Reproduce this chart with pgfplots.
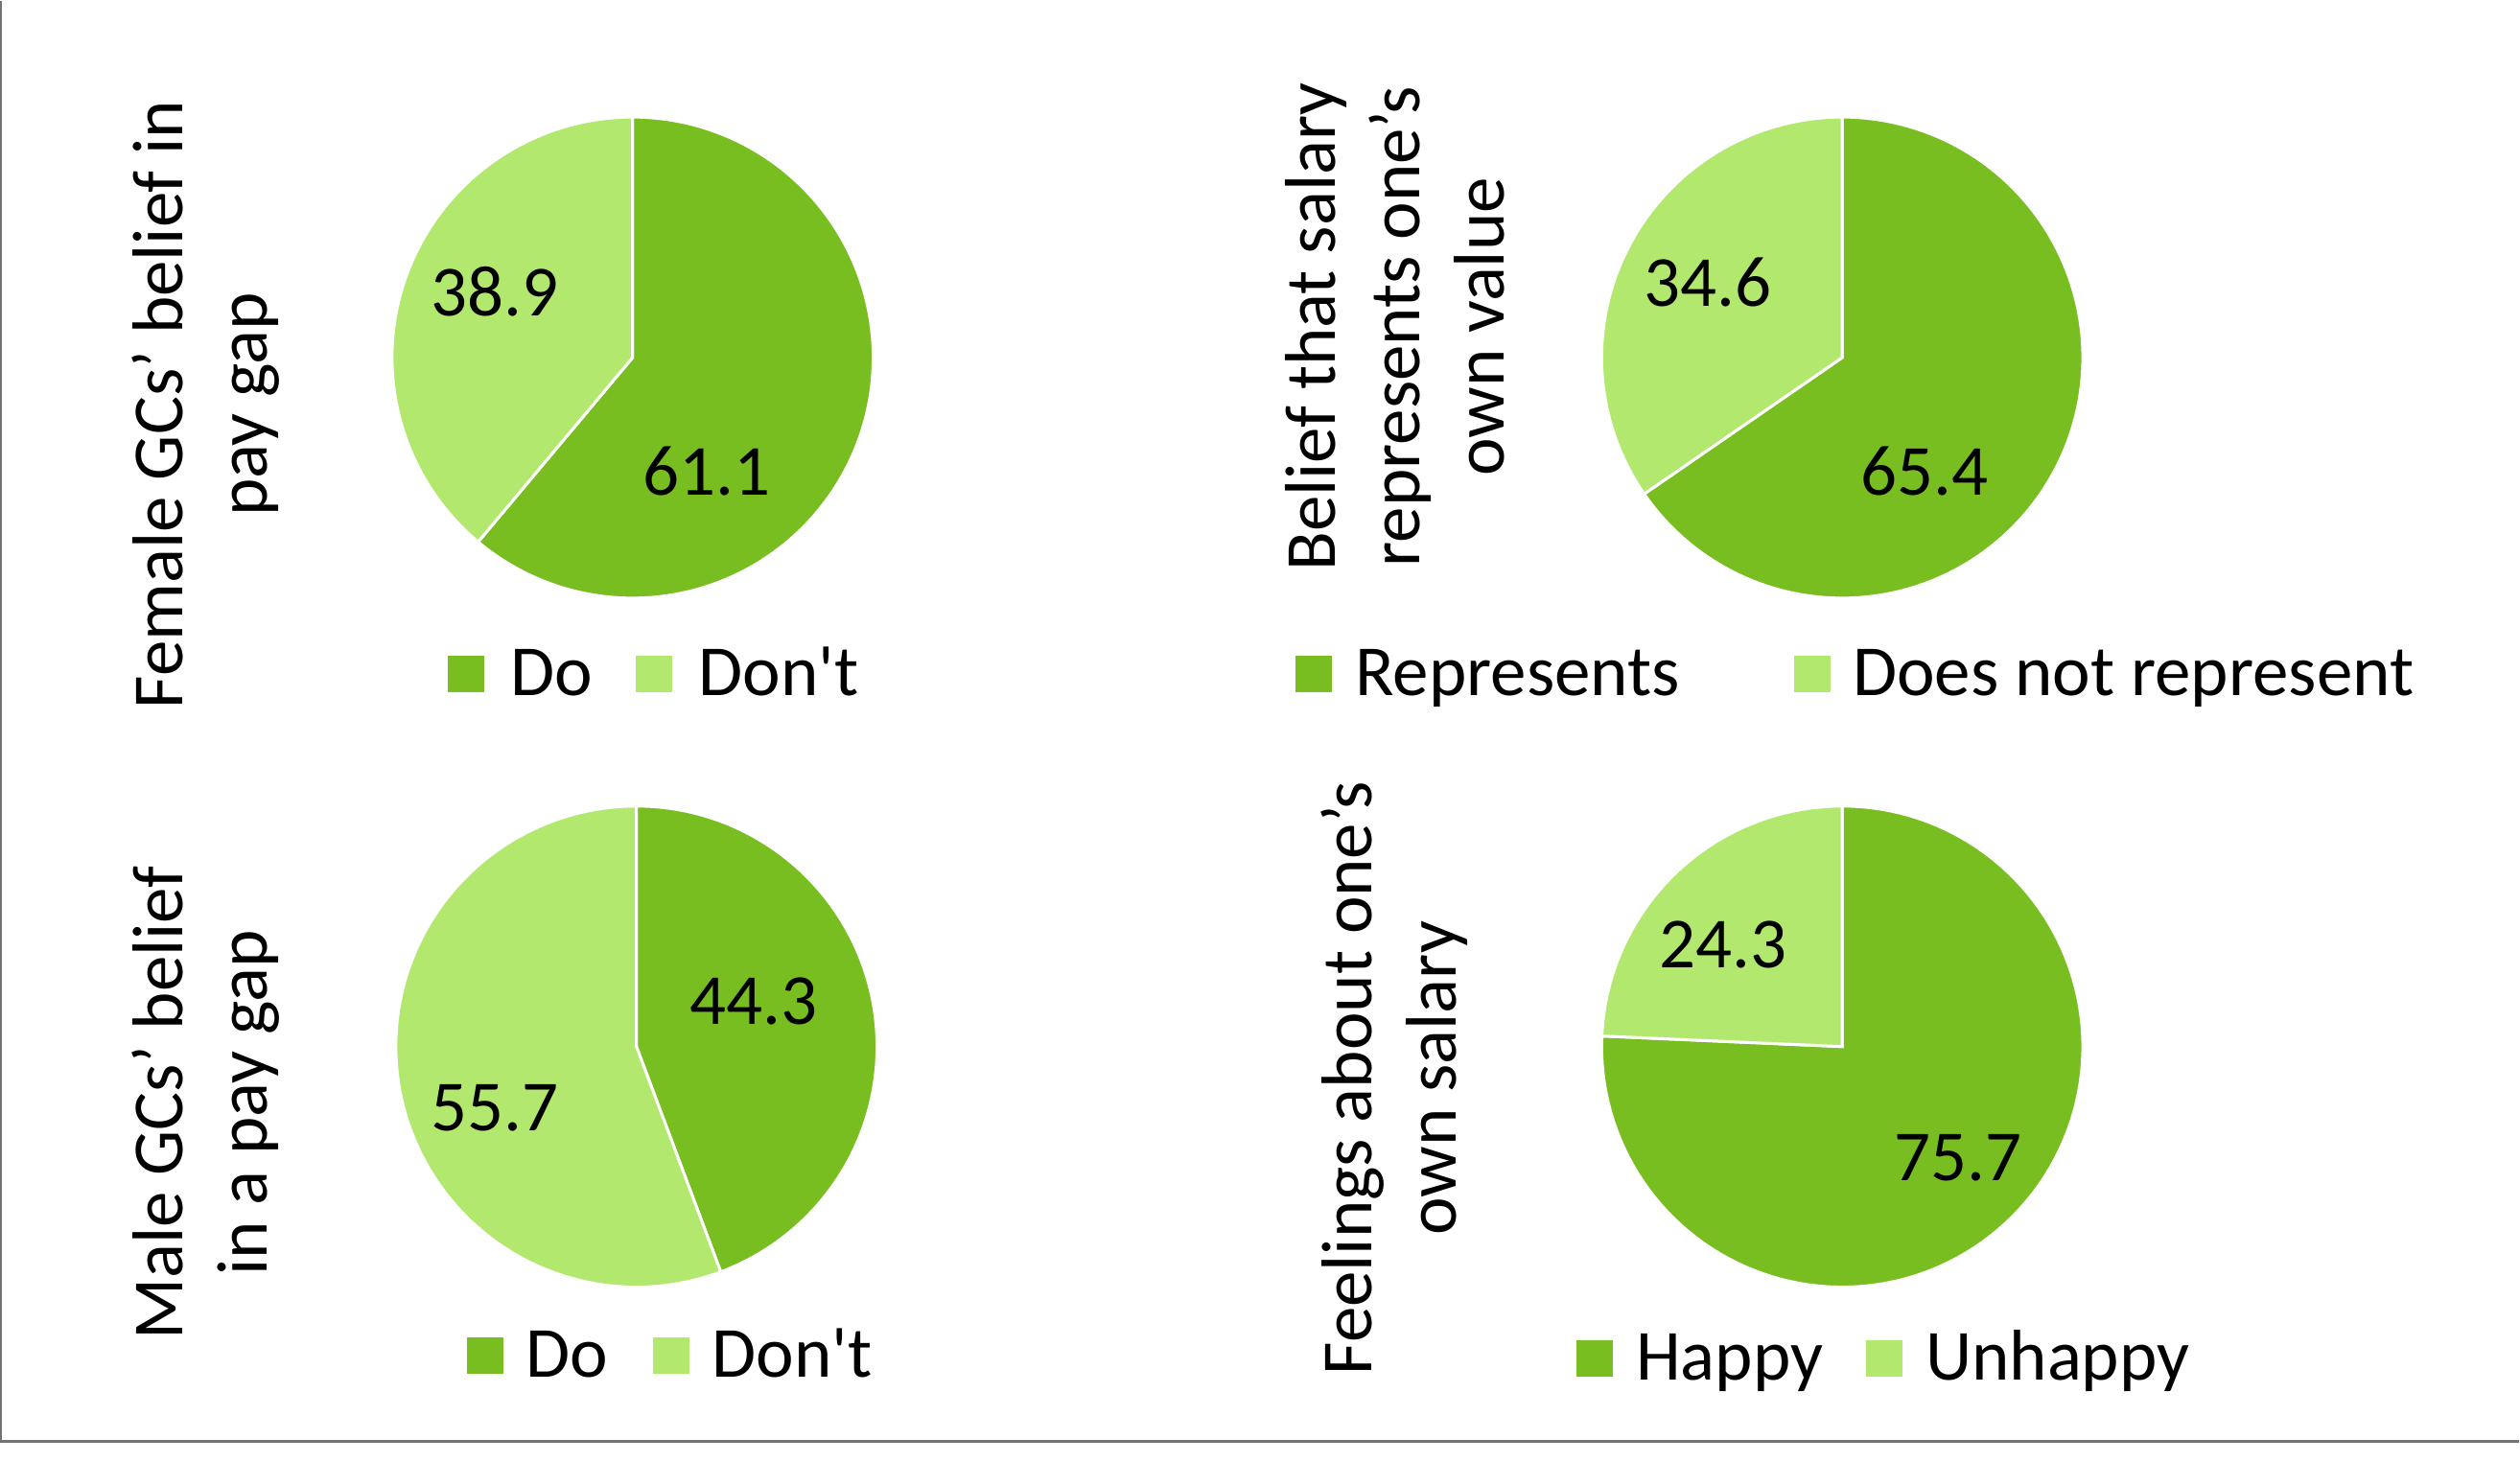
\documentclass[border=0pt]{standalone}
\usepackage{pgfplots}
\pgfplotsset{compat=1.18}
\usepackage{fontspec}
\setmainfont{Carlito}
\definecolor{dg}{RGB}{120,190,32}
\definecolor{lg}{RGB}{178,232,110}
\newcommand{\lbl}{\fontsize{15}{17.6}\selectfont}
% pie: cx, cy, value of first (clockwise from top) slice
\newcommand{\pie}[3]{%
  \addplot[fill=dg, draw=white, line width=0.6pt, domain={90-3.6*#3}:90, samples=120, variable=\t]
    ({#1+251*cos(\t)},{#2-251*sin(\t)}) -- (axis cs:#1,#2) -- cycle;
  \addplot[fill=lg, draw=white, line width=0.6pt, domain=90:{450-3.6*#3}, samples=120, variable=\t]
    ({#1+251*cos(\t)},{#2-251*sin(\t)}) -- (axis cs:#1,#2) -- cycle;
}
\newcommand{\sq}[3]{\addplot[only marks, mark=square*, mark size=3.6pt, color=#3] coordinates {(#1,#2)};}
\begin{document}
\begin{tikzpicture}
\begin{axis}[x=0.2pt, y=0.2pt, xmin=0, xmax=2628, ymin=0, ymax=1524, y dir=reverse,
  hide axis, scale only axis, clip=false]
\path (axis cs:0,0) rectangle (axis cs:2628,1524);
\addplot[color=gray!110, line width=0.45pt] coordinates {(1.2,0) (1.2,1503) (2628,1503)};
% Pie 1: Do 61.1, Don't 38.9
\pie{660}{372}{61.1}
% Pie 2: Represents 65.4, Does not represent 34.6
\pie{1922}{372}{65.4}
% Pie 3: Do 44.3, Don't 55.7
\pie{664}{1091}{44.3}
% Pie 4: Happy 75.7, Unhappy 24.3
\pie{1922}{1091}{75.7}
\node[font=\lbl, inner sep=0] at (axis cs:516,303) {38.9};
\node[font=\lbl, inner sep=0] at (axis cs:737,491) {61.1};
\node[font=\lbl, inner sep=0] at (axis cs:1782,293) {34.6};
\node[font=\lbl, inner sep=0] at (axis cs:2008,491) {65.4};
\node[font=\lbl, inner sep=0] at (axis cs:786,1044) {44.3};
\node[font=\lbl, inner sep=0] at (axis cs:516,1155) {55.7};
\node[font=\lbl, inner sep=0] at (axis cs:1798,985) {24.3};
\node[font=\lbl, inner sep=0] at (axis cs:2043,1207) {75.7};
% titles
\node[font=\lbl, inner sep=0, rotate=90, align=center] at (axis cs:215,421) {Female GCs’ belief in\\pay gap};
\node[font=\lbl, inner sep=0, rotate=90, align=center] at (axis cs:1455,340) {Belief that salary\\represents one’s\\own value};
\node[font=\lbl, inner sep=0, rotate=90, align=center] at (axis cs:215,1150) {Male GCs’ belief\\in a pay gap};
\node[font=\lbl, inner sep=0, rotate=90, align=center] at (axis cs:1455,1124) {Feelings about one’s\\own salary};
% legends
\sq{486}{702}{dg}\sq{682}{702}{lg}
\node[font=\lbl, inner sep=0, anchor=base west] at (axis cs:532,725) {Do};
\node[font=\lbl, inner sep=0, anchor=base west] at (axis cs:728,725) {Don\textquotesingle t};
\sq{1371}{702}{dg}\sq{1891}{702}{lg}
\node[font=\lbl, inner sep=0, anchor=base west] at (axis cs:1413,725) {Represents};
\node[font=\lbl, inner sep=0, anchor=base west] at (axis cs:1932,725) {Does not represent};
\sq{506}{1413}{dg}\sq{700}{1413}{lg}
\node[font=\lbl, inner sep=0, anchor=base west] at (axis cs:548,1436) {Do};
\node[font=\lbl, inner sep=0, anchor=base west] at (axis cs:742,1436) {Don\textquotesingle t};
\sq{1664}{1416}{dg}\sq{1966}{1416}{lg}
\node[font=\lbl, inner sep=0, anchor=base west] at (axis cs:1706,1439) {Happy};
\node[font=\lbl, inner sep=0, anchor=base west] at (axis cs:2008,1439) {Unhappy};
\end{axis}
\end{tikzpicture}
\end{document}
